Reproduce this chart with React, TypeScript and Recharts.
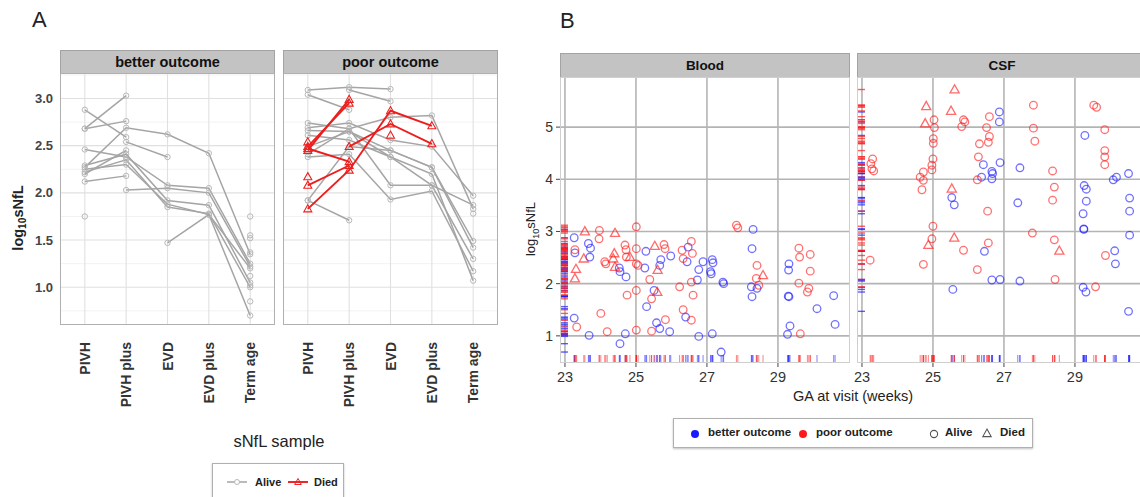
import { CartesianGrid, Scatter, ScatterChart, XAxis, YAxis } from "recharts";

const FONT = '"Liberation Sans", Arial, Helvetica, sans-serif';

// ---------- panel A: sNfL by sample, one row per infant ----------
const sampleLabels = ["PIVH", "PIVH plus", "EVD", "EVD plus", "Term age"];
const sampleTicks = [1, 2, 3, 4, 5];
const aYTicks = [1.0, 1.5, 2.0, 2.5, 3.0];
const aYMinor = [0.75, 1.25, 1.75, 2.25, 2.75, 3.25];

type Series = (number | null)[];

const betterAlive: Series[] = [
	[2.68, 3.03, null, null, null],
	[2.88, 2.59, null, null, null],
	[2.68, 2.76, null, null, null],
	[2.27, 2.69, 2.62, 2.42, 1.35],
	[2.46, 2.38, 2.08, 2.05, 1.25],
	[2.29, 2.41, 1.92, 1.87, 1.05],
	[2.22, 2.35, 1.85, 1.78, 1.0],
	[2.25, 2.3, 1.88, 1.77, 0.7],
	[2.2, 2.45, null, null, null],
	[2.12, 2.18, null, null, null],
	[null, 2.03, 2.05, 2.0, 1.22],
	[null, null, 1.47, 1.77, 1.2],
	[1.75, null, null, null, null],
	[null, 2.54, 2.38, null, null],
	[null, null, null, null, 1.75],
	[null, null, null, null, 1.55],
	[null, null, null, null, 1.52],
	[null, null, null, null, 1.37],
	[null, null, null, null, 1.12],
	[null, null, null, null, 1.02],
	[null, null, null, null, 0.85],
];
const betterDied: Series[] = [];

const poorAlive: Series[] = [
	[3.09, 3.12, 3.1, null, null],
	[3.04, 2.88, null, null, null],
	[null, 3.09, 2.97, null, null],
	[2.74, 2.68, 2.8, 2.82, 1.83],
	[2.69, 2.74, 2.56, 2.49, 1.97],
	[2.66, 2.65, 2.45, 2.27, 1.49],
	[2.61, 2.56, 2.38, 2.08, 1.3],
	[2.41, 2.68, 2.08, 2.08, 1.87],
	[2.38, 2.41, 1.93, 2.02, 1.17],
	[1.92, 2.49, 2.45, 2.27, 1.42],
	[1.92, 1.71, null, null, null],
	[2.49, 2.65, 2.38, 2.2, 1.07],
	[null, null, null, null, 1.78],
];
const poorDied: Series[] = [
	[2.45, 2.99, null, null, null],
	[2.49, 2.95, null, null, null],
	[2.47, 2.33, null, null, null],
	[2.08, 2.29, null, null, null],
	[1.83, 2.24, 2.87, 2.71, null],
	[null, 2.49, 2.73, 2.52, null],
	[2.54, null, null, null, null],
	[2.17, null, null, null, null],
	[null, null, 2.61, null, null],
];

// ---------- panel B: sNfL by gestational age at visit ----------
type Pt = [number, number];
const gaTicks = [23, 25, 27, 29];
const bYTicks = [1, 2, 3, 4, 5];
const GA_DOMAIN: [number, number] = [22.86, 31.03];
const B_Y_DOMAIN: [number, number] = [0.48, 5.96];

const bloodBetter: Pt[] = [
	[23.26, 2.88], [23.28, 2.59], [23.26, 1.34], [23.66, 2.77], [23.72, 2.68],
	[23.7, 2.51], [23.68, 1.01], [24.53, 2.3], [24.55, 2.23], [24.72, 2.13],
	[24.55, 0.85], [24.7, 1.04], [25.28, 2.62], [25.25, 2.3], [25.3, 1.56],
	[25.51, 1.87], [25.58, 1.25], [25.67, 1.14], [25.7, 2.46], [25.67, 2.35],
	[25.95, 1.08], [25.98, 2.53], [26.4, 1.36], [26.47, 2.7], [26.44, 2.42],
	[26.73, 2.07], [26.77, 0.99], [26.77, 2.27], [26.89, 2.42], [27.15, 2.46],
	[27.17, 2.4], [27.1, 2.23], [27.12, 2.19], [27.15, 1.04], [27.45, 2.03],
	[27.47, 2.0], [27.4, 0.69], [28.3, 3.04], [28.27, 2.67], [28.25, 1.94],
	[28.27, 1.75], [28.41, 1.91], [29.31, 2.38], [29.3, 2.26], [29.29, 1.76],
	[29.31, 1.75], [29.34, 1.19], [29.27, 1.03], [30.1, 1.52], [30.57, 1.77],
	[30.61, 1.22],
];
const bloodPoorAlive: Pt[] = [
	[23.28, 2.65], [23.33, 1.17], [23.97, 3.02], [23.96, 2.86], [24.01, 1.43],
	[24.12, 2.42], [24.15, 2.38], [24.19, 1.08], [24.69, 2.74], [24.72, 2.65],
	[24.73, 2.51], [24.75, 1.78], [25.01, 3.09], [25.01, 2.67], [25.01, 2.38],
	[25.06, 2.35], [25.01, 1.87], [25.01, 1.11], [25.39, 2.08], [25.44, 1.71],
	[25.44, 1.09], [25.79, 2.75], [25.82, 2.67], [25.83, 1.31], [26.23, 1.94],
	[26.3, 2.64], [26.33, 2.48], [26.33, 1.5], [26.56, 2.81], [26.59, 2.58],
	[26.56, 2.03], [26.61, 1.78], [26.56, 1.3], [27.83, 3.12], [27.87, 3.07],
	[28.41, 2.35], [28.39, 2.1], [28.46, 1.97], [29.59, 2.68], [29.61, 2.51],
	[29.59, 2.01], [29.63, 1.04], [29.91, 2.56], [29.91, 2.24], [29.87, 1.91],
	[29.83, 1.84],
];
const bloodPoorDied: Pt[] = [
	[23.56, 3.0], [23.31, 2.28], [23.28, 2.1], [23.53, 2.48], [24.41, 2.97],
	[24.39, 2.58], [24.36, 2.48], [24.41, 2.32], [24.83, 2.51], [25.53, 2.72],
	[25.61, 2.26], [25.6, 1.84], [28.58, 2.16],
];

const csfBetter: Pt[] = [
	[26.87, 5.29], [26.87, 5.1], [26.89, 4.32], [26.42, 4.28], [26.37, 4.04],
	[26.66, 4.15], [26.68, 4.11], [26.66, 4.01], [27.45, 4.22], [25.53, 3.65],
	[25.6, 3.51], [26.45, 2.62], [26.66, 2.07], [26.89, 2.08], [27.45, 2.05],
	[25.56, 1.89], [27.39, 3.55], [29.28, 4.84], [29.26, 3.88], [29.32, 3.81],
	[29.32, 3.58], [29.23, 3.34], [29.25, 3.05], [29.25, 3.04], [29.23, 1.93],
	[29.31, 1.84], [30.08, 3.99], [30.17, 4.04], [30.51, 4.11], [30.54, 3.64],
	[30.54, 3.39], [30.54, 2.93], [30.12, 2.63], [30.14, 2.38], [30.51, 1.47],
];
const csfPoorAlive: Pt[] = [
	[23.3, 4.39], [23.25, 4.3], [23.28, 4.2], [23.33, 4.16], [23.23, 2.45],
	[24.73, 4.14], [24.64, 4.04], [24.73, 3.98], [24.69, 3.8], [25.0, 4.39],
	[24.97, 4.27], [24.97, 4.18], [25.01, 4.78], [25.01, 4.69], [25.03, 5.14],
	[25.04, 4.99], [25.0, 3.1], [24.97, 2.86], [24.73, 2.37], [25.86, 5.14],
	[25.9, 5.1], [25.81, 5.01], [25.86, 2.64], [26.28, 4.43], [26.31, 4.68],
	[26.25, 3.99], [26.51, 4.99], [26.59, 5.2], [26.59, 4.82], [26.56, 4.71],
	[26.54, 3.39], [26.56, 2.78], [26.25, 2.27], [27.83, 5.42], [27.83, 4.98],
	[27.87, 4.73], [27.8, 2.97], [28.37, 4.16], [28.42, 3.85], [28.37, 3.6],
	[28.42, 2.84], [28.44, 2.08], [29.53, 5.42], [29.61, 5.38], [29.84, 4.95],
	[29.84, 4.55], [29.84, 4.43], [29.84, 4.28], [29.86, 2.54], [29.58, 1.94],
];
const csfPoorDied: Pt[] = [
	[25.61, 5.72], [24.81, 5.4], [25.51, 5.31], [24.78, 5.07], [25.53, 3.82],
	[25.6, 2.88], [24.87, 2.74], [28.56, 2.63],
];

const RED = "#ff1a1a";
const BLUE = "#1a1aff";

const toPoints = (s: Series) =>
	s.flatMap((v, i) => (v == null ? [] : [{ x: i + 1, y: v }]));
const fromPairs = (pts: Pt[]) => pts.map(([x, y]) => ({ x, y }));

function triPath(cx: number, cy: number, s: number) {
	return `M${cx},${cy - s}L${cx + s * 0.95},${cy + s * 0.7}L${cx - s * 0.95},${cy + s * 0.7}Z`;
}

const greyDot = (p: any) => (
	<circle cx={p.cx} cy={p.cy} r={2.7} fill="none" stroke="#b8b8b8" strokeWidth={1} />
);
const redTri = (p: any) => (
	<path d={triPath(p.cx, p.cy, 4.2)} fill="none" stroke="#ee2020" strokeWidth={1.1} />
);

function SampleTick({ x, y, payload }: any) {
	return (
		<text
			x={x}
			y={y}
			transform={`rotate(-90 ${x} ${y})`}
			textAnchor="end"
			dy="0.36em"
			fontSize={14}
			fontWeight="bold"
			fill="#333"
			fontFamily={FONT}
		>
			{sampleLabels[payload.value - 1]}
		</text>
	);
}

function Strip({ left, top, width, height, label, fontSize }: any) {
	return (
		<div
			style={{
				position: "absolute",
				left,
				top,
				width,
				height,
				boxSizing: "border-box",
				background: "#c3c3c3",
				border: "1px solid #a3a3a3",
				fontWeight: "bold",
				fontSize,
				lineHeight: `${height - 2}px`,
				textAlign: "center",
				color: "#111",
			}}
		>
			{label}
		</div>
	);
}

function Frame({ left, top, width, height, color }: any) {
	return (
		<div
			style={{
				position: "absolute",
				left,
				top,
				width,
				height,
				boxSizing: "border-box",
				border: `1px solid ${color}`,
				pointerEvents: "none",
			}}
		/>
	);
}

// one facet of panel A
function SampleFacet({ left, showY, alive, died, title }: any) {
	const plotLeft = showY ? 60 : left;
	return (
		<>
			<Strip left={plotLeft} top={50} width={215} height={24} label={title} fontSize={14.5} />
			<div style={{ position: "absolute", left: showY ? 0 : left, top: 73 }}>
				<ScatterChart
					width={showY ? 275 : 215}
					height={342}
					margin={{ top: 0, right: 0, bottom: 0, left: showY ? 25 : 0 }}
				>
					<CartesianGrid
						horizontalValues={aYMinor}
						vertical={false}
						stroke="#efefef"
						strokeWidth={0.8}
					/>
					<CartesianGrid
						horizontalValues={aYTicks}
						verticalValues={sampleTicks}
						stroke="#e0e0e0"
						strokeWidth={1.1}
					/>
					<XAxis
						type="number"
						dataKey="x"
						domain={[0.4, 5.6]}
						ticks={sampleTicks}
						interval={0}
						allowDataOverflow
						axisLine={false}
						tickLine={false}
						tickSize={4}
						tickMargin={13}
						height={90}
						tick={(p: any) => <SampleTick {...p} />}
					/>
					<YAxis
						type="number"
						dataKey="y"
						domain={[0.6, 3.27]}
						ticks={aYTicks}
						allowDataOverflow
						hide={!showY}
						width={35}
						axisLine={false}
						tickLine={false}
						tickSize={0}
						tickMargin={7}
						tickFormatter={(v: number) => v.toFixed(1)}
						tick={{ fontSize: 13, fontWeight: "bold", fill: "#444", fontFamily: FONT }}
					/>
					{alive.map((s: Series, i: number) => (
						<Scatter
							key={`a${i}`}
							data={toPoints(s)}
							line={{ stroke: "#a5a5a5", strokeWidth: 1.5 }}
							shape={greyDot}
							isAnimationActive={false}
						/>
					))}
					{died.map((s: Series, i: number) => (
						<Scatter
							key={`d${i}`}
							data={toPoints(s)}
							line={{ stroke: "#ee1c1c", strokeWidth: 1.9 }}
							shape={redTri}
							isAnimationActive={false}
						/>
					))}
				</ScatterChart>
			</div>
			<Frame left={plotLeft} top={73} width={215} height={252} color="#b0b0b0" />
		</>
	);
}

const circleShape = (color: string) => (p: any) => (
	<circle
		cx={p.cx}
		cy={p.cy}
		r={3.8}
		fill="none"
		stroke={color}
		strokeOpacity={0.62}
		strokeWidth={1.3}
	/>
);
const triShape = (color: string) => (p: any) => (
	<path
		d={triPath(p.cx, p.cy, 4.8)}
		fill="none"
		stroke={color}
		strokeOpacity={0.65}
		strokeWidth={1.3}
	/>
);
const leftRug = (color: string) => (p: any) => (
	<line x1={p.cx} x2={p.cx + 8} y1={p.cy} y2={p.cy} stroke={color} strokeOpacity={0.7} strokeWidth={1.4} />
);
const bottomRug = (color: string) => (p: any) => (
	<line x1={p.cx} x2={p.cx} y1={p.cy - 8} y2={p.cy} stroke={color} strokeOpacity={0.55} strokeWidth={1} />
);

// one facet of panel B
function VisitFacet({ left, showY, title, better, poorAlive, poorDied }: any) {
	const plotLeft = showY ? left + 40 : left;
	const padLeft = showY ? 0 : 20;
	const groups: [Pt[], string][] = [
		[better, BLUE],
		[poorAlive, RED],
		[poorDied, RED],
	];
	return (
		<>
			<Strip left={plotLeft} top={53} width={290} height={25} label={title} fontSize={13.5} />
			<div style={{ position: "absolute", left: left - padLeft, top: 77 }}>
				<ScatterChart
					width={(showY ? 330 : 290) + padLeft}
					height={326}
					margin={{ top: 0, right: 0, bottom: 0, left: padLeft }}
				>
					<CartesianGrid
						horizontalValues={bYTicks}
						verticalValues={gaTicks}
						stroke="#b4b4b4"
						strokeWidth={1.6}
					/>
					<XAxis
						type="number"
						dataKey="x"
						domain={GA_DOMAIN}
						ticks={gaTicks}
						interval={0}
						allowDataOverflow
						axisLine={false}
						tickLine={{ stroke: "#444" }}
						tickSize={4}
						tickMargin={5}
						height={40}
						tick={{ fontSize: 14.5, fill: "#333", fontFamily: FONT }}
					/>
					<YAxis
						type="number"
						dataKey="y"
						domain={B_Y_DOMAIN}
						ticks={bYTicks}
						allowDataOverflow
						hide={!showY}
						width={40}
						axisLine={false}
						tickLine={{ stroke: "#444" }}
						tickSize={4}
						tickMargin={3}
						tick={{ fontSize: 14, fill: "#333", fontFamily: FONT }}
					/>
					{groups.map(([pts, color], i) => (
						<Scatter
							key={`ly${i}`}
							data={pts.map(([, y]) => ({ x: GA_DOMAIN[0], y }))}
							shape={leftRug(color)}
							isAnimationActive={false}
						/>
					))}
					{groups.map(([pts, color], i) => (
						<Scatter
							key={`bx${i}`}
							data={pts.map(([x]) => ({ x, y: B_Y_DOMAIN[0] }))}
							shape={bottomRug(color)}
							isAnimationActive={false}
						/>
					))}
					<Scatter data={fromPairs(better)} shape={circleShape(BLUE)} isAnimationActive={false} />
					<Scatter data={fromPairs(poorAlive)} shape={circleShape(RED)} isAnimationActive={false} />
					<Scatter data={fromPairs(poorDied)} shape={triShape(RED)} isAnimationActive={false} />
				</ScatterChart>
			</div>
			<Frame left={plotLeft} top={77} width={290} height={286} color="#cfcfcf" />
		</>
	);
}

export default function App() {
	return (
		<div
			style={{
				position: "absolute",
				left: 0,
				top: 0,
				width: 1140,
				height: 497,
				overflow: "hidden",
				background: "#fff",
				fontFamily: FONT,
				color: "#222",
			}}
		>
			<div style={{ position: "absolute", left: 32, top: 7, fontSize: 22 }}>A</div>
			<div style={{ position: "absolute", left: 560, top: 8, fontSize: 22 }}>B</div>

			{/* panel A */}
			<div
				style={{
					position: "absolute",
					left: 19,
					top: 218,
					transform: "translate(-50%, -50%) rotate(-90deg)",
					whiteSpace: "nowrap",
					fontSize: 14.5,
					fontWeight: "bold",
					color: "#222",
				}}
			>
				log<sub style={{ fontSize: "0.7em" }}>10</sub>sNfL
			</div>
			<SampleFacet left={0} showY title="better outcome" alive={betterAlive} died={betterDied} />
			<SampleFacet left={283} showY={false} title="poor outcome" alive={poorAlive} died={poorDied} />
			<div
				style={{
					position: "absolute",
					left: 279,
					top: 441,
					transform: "translate(-50%, -50%)",
					fontSize: 16.5,
					whiteSpace: "nowrap",
				}}
			>
				sNfL sample
			</div>
			<div
				style={{
					position: "absolute",
					left: 212,
					top: 463,
					width: 132,
					height: 45,
					boxSizing: "border-box",
					border: "1px solid #b0b0b0",
					boxShadow: "0 1px 2px rgba(0,0,0,0.25)",
					fontSize: 11,
					fontWeight: "bold",
				}}
			>
				<svg style={{ position: "absolute", left: 14, top: 13 }} width={20} height={10}>
					<line x1={0} x2={20} y1={5} y2={5} stroke="#a5a5a5" strokeWidth={1.5} />
					<circle cx={10} cy={5} r={2.5} fill="#fff" stroke="#b8b8b8" />
				</svg>
				<span style={{ position: "absolute", left: 42, top: 12 }}>Alive</span>
				<svg style={{ position: "absolute", left: 75, top: 13 }} width={20} height={10}>
					<line x1={0} x2={20} y1={5} y2={5} stroke="#ee1c1c" strokeWidth={1.9} />
					<path d={triPath(10, 5, 3.5)} fill="none" stroke="#ee2020" />
				</svg>
				<span style={{ position: "absolute", left: 101, top: 12 }}>Died</span>
			</div>

			{/* panel B */}
			<div
				style={{
					position: "absolute",
					left: 532,
					top: 229,
					transform: "translate(-50%, -50%) rotate(-90deg)",
					whiteSpace: "nowrap",
					fontSize: 13,
					color: "#222",
				}}
			>
				log<sub style={{ fontSize: "0.7em" }}>10</sub>sNfL
			</div>
			<VisitFacet
				left={520}
				showY
				title="Blood"
				better={bloodBetter}
				poorAlive={bloodPoorAlive}
				poorDied={bloodPoorDied}
			/>
			<VisitFacet
				left={857}
				showY={false}
				title="CSF"
				better={csfBetter}
				poorAlive={csfPoorAlive}
				poorDied={csfPoorDied}
			/>
			<div
				style={{
					position: "absolute",
					left: 853,
					top: 396,
					transform: "translate(-50%, -50%)",
					fontSize: 14.5,
					whiteSpace: "nowrap",
				}}
			>
				GA at visit (weeks)
			</div>
			<div
				style={{
					position: "absolute",
					left: 673,
					top: 418,
					width: 360,
					height: 30,
					boxSizing: "border-box",
					border: "1px solid #b0b0b0",
					boxShadow: "0 1px 2px rgba(0,0,0,0.25)",
					fontSize: 11.5,
					fontWeight: "bold",
				}}
			>
				<svg style={{ position: "absolute", left: 16, top: 10 }} width={10} height={10}>
					<circle cx={5} cy={5} r={4} fill={BLUE} />
				</svg>
				<span style={{ position: "absolute", left: 34, top: 7 }}>better outcome</span>
				<svg style={{ position: "absolute", left: 124, top: 10 }} width={10} height={10}>
					<circle cx={5} cy={5} r={4} fill={RED} />
				</svg>
				<span style={{ position: "absolute", left: 142, top: 7 }}>poor outcome</span>
				<svg style={{ position: "absolute", left: 254, top: 9 }} width={12} height={12}>
					<circle cx={6} cy={6} r={3.6} fill="none" stroke="#555" strokeWidth={1.1} />
				</svg>
				<span style={{ position: "absolute", left: 271, top: 7 }}>Alive</span>
				<svg style={{ position: "absolute", left: 307, top: 8 }} width={12} height={12}>
					<path d={triPath(6, 6.5, 4.4)} fill="none" stroke="#555" strokeWidth={1.1} />
				</svg>
				<span style={{ position: "absolute", left: 326, top: 7 }}>Died</span>
			</div>
		</div>
	);
}
